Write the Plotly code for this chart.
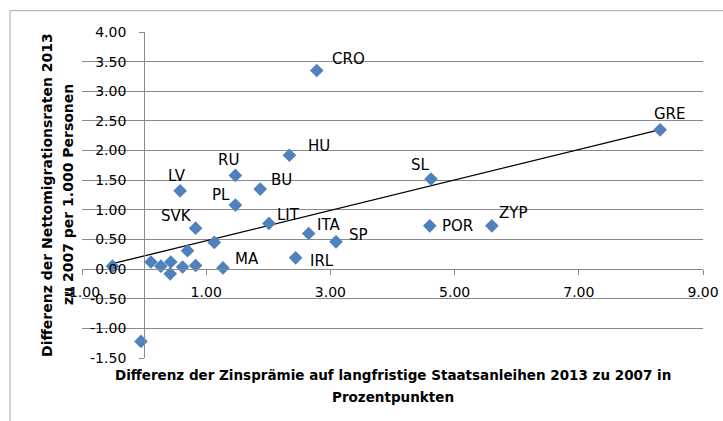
import numpy as np
import plotly.graph_objects as go

# ---- data ----
x_vals = [8.31, 2.78, 2.34, 1.87, 4.62, 5.60, 4.60, 2.01, 2.65, 3.09, 2.44, 1.27,
          1.47, 0.58, 1.47, 0.83, 1.13, 0.70, -0.51, 0.11, 0.27, 0.43, 0.42, 0.62, 0.83, -0.05]
y_vals = [2.35, 3.35, 1.92, 1.35, 1.52, 0.73, 0.73, 0.77, 0.60, 0.46, 0.19, 0.02,
          1.58, 1.32, 1.08, 0.69, 0.45, 0.31, 0.05, 0.12, 0.05, 0.12, -0.08, 0.035, 0.06, -1.22]
point_labels = ["GRE", "CRO", "HU", "BU", "SL", "ZYP", "POR", "LIT", "ITA", "SP", "IRL", "MA",
                "RU", "LV", "PL", "SVK", "", "", "", "", "", "", "", "", "", ""]

x_tick_vals = [-1, 1, 3, 5, 7, 9]
x_tick_labels = ["-1.00", "1.00", "3.00", "5.00", "7.00", "9.00"]
y_tick_vals = [-1.5, -1.0, -0.5, 0.0, 0.5, 1.0, 1.5, 2.0, 2.5, 3.0, 3.5, 4.0]
y_tick_labels = ["-1.50", "-1.00", "-0.50", "0.00", "0.50", "1.00", "1.50", "2.00",
                 "2.50", "3.00", "3.50", "4.00"]

x_title_lines = ["Differenz der Zinsprämie auf langfristige Staatsanleihen 2013 zu 2007 in",
                 "Prozentpunkten"]
y_title_lines = ["Differenz der Nettomigrationsraten 2013", "zu 2007 per 1.000 Personen"]

# ---- style: label offsets (pixels) ----
label_style = {
    "GRE": ("center", 10, 16), "CRO": ("left", 13, 12), "HU": ("left", 17, 9),
    "BU": ("left", 9, 9), "SL": ("center", -11, 14), "ZYP": ("left", 5, 13),
    "POR": ("left", 10, 0), "LIT": ("left", 6, 8), "ITA": ("left", 6, 9),
    "SP": ("left", 11, 7), "IRL": ("left", 12, -3), "MA": ("left", 10, 9),
    "RU": ("center", -7, 15), "LV": ("center", -3, 15), "PL": ("center", -14, 10),
    "SVK": ("center", -19, 12),
}

FONT = "DejaVu Sans, sans-serif"
GRID = "#8a8a8a"
BLUE = "#4F81BD"

fig = go.Figure()

# trendline (linear least squares over the data range)
xa = np.array(x_vals)
ya = np.array(y_vals)
slope, intercept = np.polyfit(xa, ya, 1)
tx = np.array([xa.min(), xa.max()])
fig.add_trace(go.Scatter(x=tx, y=slope * tx + intercept, mode="lines",
                         line=dict(color="black", width=1.3), hoverinfo="skip",
                         showlegend=False))

fig.add_trace(go.Scatter(x=x_vals, y=y_vals, mode="markers",
                         marker=dict(symbol="diamond", size=10.5, color=BLUE,
                                     line=dict(width=0)),
                         showlegend=False))

annotations = []
for xv, yv, lab in zip(x_vals, y_vals, point_labels):
    if not lab:
        continue
    anchor, dx, dy = label_style[lab]
    annotations.append(dict(x=xv, y=yv, xref="x", yref="y", text=lab, showarrow=False,
                            xanchor=anchor, yanchor="middle", xshift=dx, yshift=dy,
                            font=dict(family=FONT, size=15, color="black")))

# axis titles
XT = dict(family=FONT, size=13.5, color="black")
YT = dict(family=FONT, size=14, color="black")
annotations.append(dict(x=0.5, y=-0.052, xref="paper", yref="paper", text="<b>%s</b>" % x_title_lines[0],
                        showarrow=False, xanchor="center", yanchor="middle", font=XT))
annotations.append(dict(x=0.5, y=-0.119, xref="paper", yref="paper", text="<b>%s</b>" % x_title_lines[1],
                        showarrow=False, xanchor="center", yanchor="middle", font=XT))
annotations.append(dict(x=-0.0564, y=0.5, xref="paper", yref="paper", text="<b>%s</b>" % y_title_lines[0],
                        showarrow=False, xanchor="center", yanchor="middle", textangle=-90, font=YT))
annotations.append(dict(x=-0.0225, y=0.5, xref="paper", yref="paper", text="<b>%s</b>" % y_title_lines[1],
                        showarrow=False, xanchor="center", yanchor="middle", textangle=-90, font=YT))

fig.update_layout(
    width=723, height=421,
    margin=dict(l=82, r=20, t=32, b=63, autoexpand=False),
    paper_bgcolor="white", plot_bgcolor="white",
    font=dict(family=FONT, color="black"),
    annotations=annotations,
    shapes=[dict(type="rect", xref="paper", yref="paper", x0=-0.1159, x1=1.2,
                 y0=-0.5, y1=1.0653, line=dict(color="#a6a6a6", width=1),
                 fillcolor="rgba(0,0,0,0)", layer="below")],
    xaxis=dict(range=[-1, 9], tickmode="array", tickvals=x_tick_vals, ticktext=x_tick_labels,
               showgrid=False, zeroline=False, showline=True, linecolor=GRID, linewidth=1,
               ticks="outside", ticklen=5, tickcolor=GRID, anchor="free", position=1.5 / 5.5,
               automargin=False,
               ticklabelstandoff=5, tickfont=dict(family=FONT, size=14, color="black")),
    yaxis=dict(range=[-1.5, 4], tickmode="array", tickvals=y_tick_vals, ticktext=y_tick_labels,
               showgrid=True, gridcolor=GRID, gridwidth=1, zeroline=False, showline=True,
               linecolor=GRID, linewidth=1, ticks="outside", ticklen=5, tickcolor=GRID,
               anchor="free", position=0.1, ticklabelstandoff=10, automargin=False,
               tickfont=dict(family=FONT, size=14, color="black")),
)

fig.write_html("out.html", config={"displayModeBar": False},
               post_script="document.body.style.margin='0';document.body.style.padding='0';")
